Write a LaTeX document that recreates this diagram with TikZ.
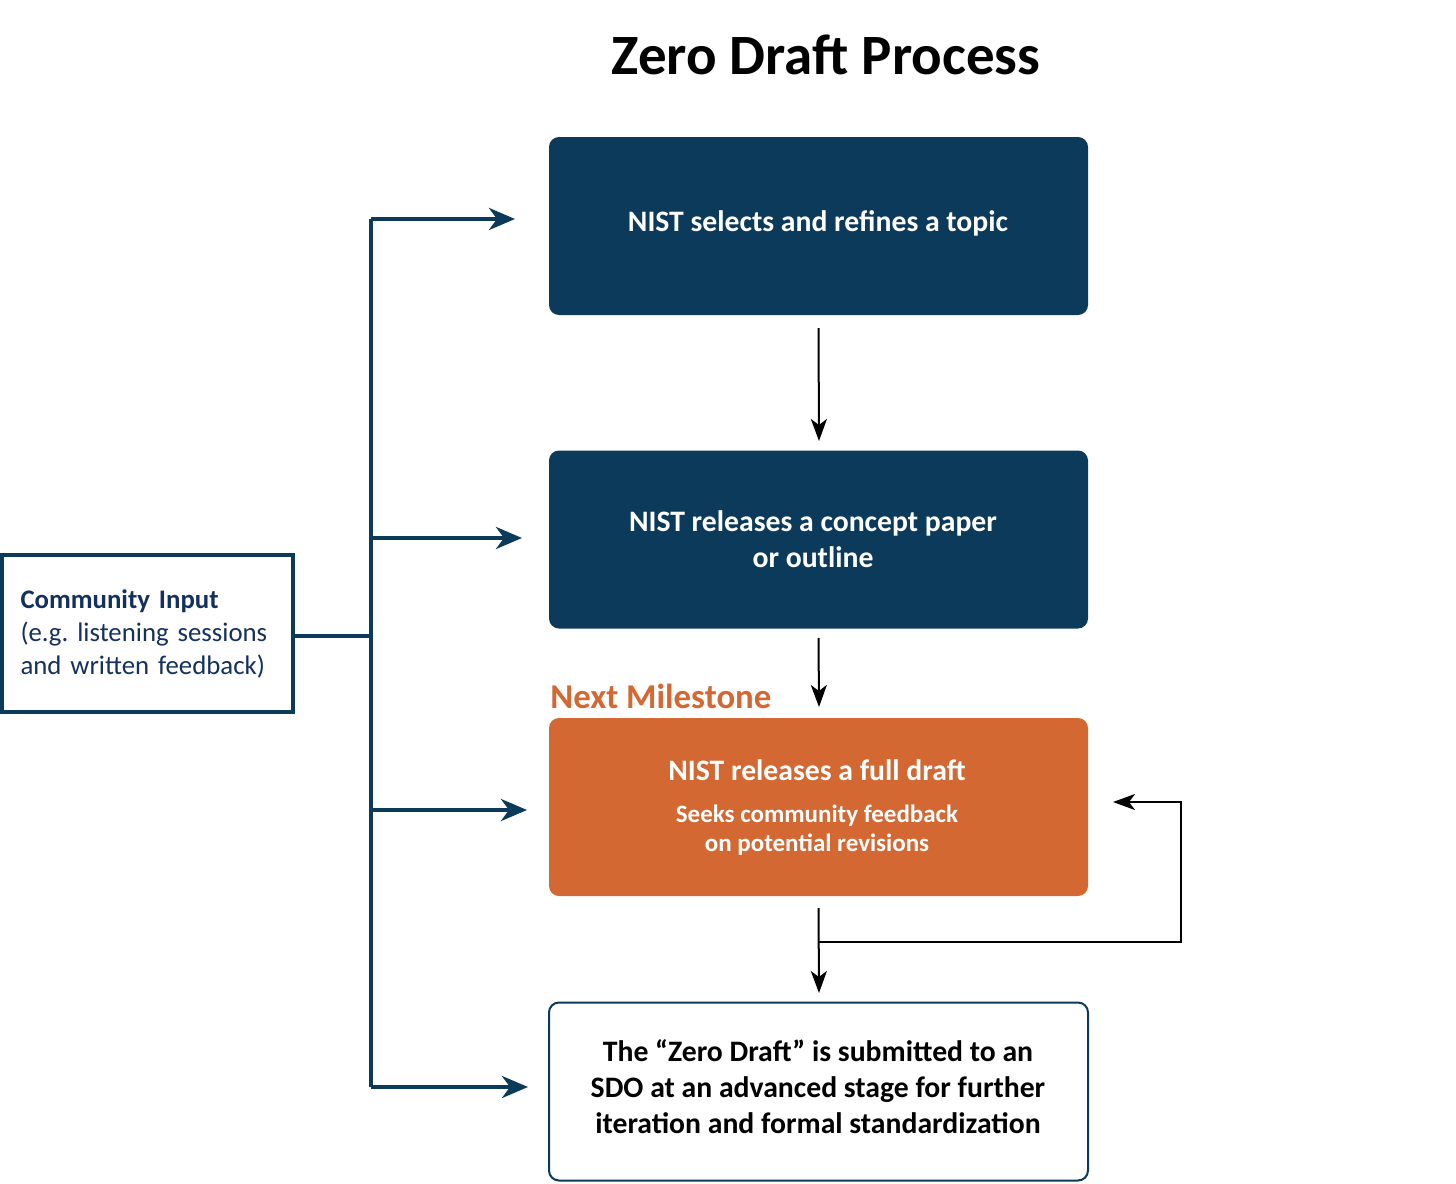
\documentclass[tikz,border=0pt]{standalone}
\usepackage{fontspec}
\setmainfont{Carlito}
\frenchspacing
\usetikzlibrary{arrows.meta}
\definecolor{navy}{HTML}{0B3A5A}
\definecolor{orng}{HTML}{D36833}
\definecolor{ctext}{HTML}{14305E}
\tikzset{
  darkbox/.style={rectangle, rounded corners=5pt, fill=navy, text=white, font=\bfseries\fontsize{14.85}{18}\selectfont, minimum width=269.5pt, minimum height=89pt, align=center, inner sep=0pt},
  orangebox/.style={darkbox, fill=orng},
  whitebox/.style={darkbox, fill=white, draw=navy, line width=1pt, text=black},
  boxtext/.style={anchor=base, inner sep=0pt, align=center, font=\bfseries\fontsize{14.85}{18}\selectfont},
  subtext/.style={anchor=base, inner sep=0pt, text=white, font=\bfseries\fontsize{12.5}{14.5}\selectfont},
  navyline/.style={draw=navy, line width=2pt},
  navyarrow/.style={navyline, -{Stealth[length=13pt,width=11pt,inset=4pt]}},
  blackarrow/.style={draw=black, line width=1pt, -{Stealth[length=11pt,width=8pt,inset=3pt]}},
}
\begin{document}
\begin{tikzpicture}[x=0.5pt,y=-0.5pt]
\useasboundingbox (0,0) rectangle (1456,1183);
\node[font=\bfseries\fontsize{28.5}{32}\selectfont] (title) at (826,55) {Zero Draft Process};

\node[darkbox] (b1) at (818.5,226) {};
\node[boxtext, text=white] (b1t) at (818,231) {NIST selects and refines a topic};
\node[darkbox] (b2) at (818.5,539.5) {};
\node[boxtext, text=white] (b2t) at (813,531) {NIST releases a concept paper};
\node[boxtext, text=white] (b2u) at (813,567) {or outline};
\node[orangebox] (b3) at (818.5,807) {};
\node[boxtext, text=white] (b3t) at (817,780) {NIST releases a full draft};
\node[subtext] (b3s) at (817,822) {Seeks community feedback};
\node[subtext] (b3u) at (817,851) {on potential revisions};
\node[whitebox] (b4) at (818.5,1091.5) {};
\node[boxtext, text=black] (b4t) at (818,1061) {The “Zero Draft” is submitted to an};
\node[boxtext, text=black] (b4u) at (818,1097) {SDO at an advanced stage for further};
\node[boxtext, text=black] (b4v) at (818,1133) {iteration and formal standardization};
\node[anchor=base west, text=orng, font=\bfseries\fontsize{17.4}{20}\selectfont, inner sep=0pt] (nm) at (550,708) {Next Milestone};

\node[rectangle, draw=navy, line width=2pt, minimum width=145.5pt, minimum height=78.5pt, text=ctext, align=left, font=\fontsize{13.4}{16.5}\selectfont, inner sep=0pt, text width=127pt] (ci) at (147.5,633.5) {\textbf{Community Input}\\(e.g. listening sessions\\and written feedback)};

% navy connectors
\coordinate (j) at (371,636);
\coordinate (t1) at (371,219);
\coordinate (t4) at (371,1087);
\coordinate (a1) at (515,219);
\coordinate (a2) at (522,538);
\coordinate (a3) at (527,810);
\coordinate (a4) at (528,1087);
\draw[navyline] (ci.east |- j) -- (j);
\draw[navyline] (t1) -- (t4);
\draw[navyarrow] (t1) -- (a1);
\draw[navyarrow] (371,538) coordinate (s2) -- (a2);
\draw[navyarrow] (371,810) coordinate (s3) -- (a3);
\draw[navyarrow] (t4) -- (a4);

% black arrows
\coordinate (e1) at (819,441);
\coordinate (e2) at (819,707);
\coordinate (e3) at (819,993);
\coordinate (fb) at (1113,802);
\coordinate (k) at (819,942);
\draw[blackarrow] (b1.south |- 0,328) -- (e1);
\draw[blackarrow] (b2.south |- 0,638) -- (e2);
\draw[blackarrow] (b3.south |- 0,908) -- (e3);
\draw[blackarrow] (k) -- (1181,942) -- (1181,802) -- (fb);
\end{tikzpicture}
\end{document}
